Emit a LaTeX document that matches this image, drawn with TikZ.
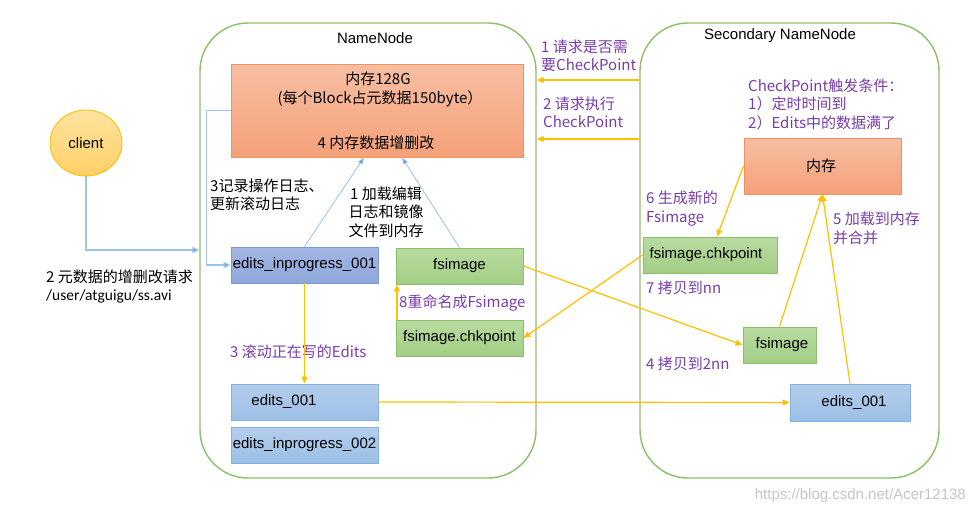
\documentclass[tikz,border=0pt]{standalone}
\usepackage{fontspec}
\setmainfont{Liberation Sans}
\newfontfamily\cjk{Noto Sans CJK SC}
\newfontfamily\cali{Carlito}
\usetikzlibrary{arrows.meta,shapes.geometric}
\definecolor{cgreen}{HTML}{8CC06A}
\definecolor{bgreen}{HTML}{8CC068}
\definecolor{gtop}{HTML}{B8DBA0}
\definecolor{gbot}{HTML}{A3CE85}
\definecolor{otop}{HTML}{F7BEA2}
\definecolor{obot}{HTML}{F4A179}
\definecolor{oline}{HTML}{F0915E}
\definecolor{ptop}{HTML}{A3B7E3}
\definecolor{pbot}{HTML}{8EA6DA}
\definecolor{pline}{HTML}{7F98D0}
\definecolor{btop}{HTML}{B4CEEC}
\definecolor{bbot}{HTML}{9BBFE6}
\definecolor{bline}{HTML}{86B1DE}
\definecolor{ylw}{HTML}{FFC000}
\definecolor{pur}{HTML}{7A3DAA}
\definecolor{lblue}{HTML}{9DC3E6}
\definecolor{dblue}{HTML}{5B9BD5}
\definecolor{ctop}{HTML}{FFE3A0}
\definecolor{cbot}{HTML}{FFD066}
\begin{document}
\begin{tikzpicture}[x=1pt,y=-1pt,
  font=\fontsize{15}{18.5}\selectfont,
  container/.style={draw=cgreen, line width=1.4pt, rounded corners=48pt, inner sep=0pt},
  bx/.style={line width=0.9pt, inner sep=0pt},
  obox/.style={bx, draw=oline, top color=otop, bottom color=obot},
  gbox/.style={bx, draw=bgreen, top color=gtop, bottom color=gbot},
  pbox/.style={bx, draw=pline, top color=ptop, bottom color=pbot},
  bbox/.style={bx, draw=bline, top color=btop, bottom color=bbot},
  yarr/.style={draw=ylw, line width=1.2pt, -{Triangle[length=7pt,width=6pt]}},
  barr/.style={draw=lblue, line width=1.2pt, -{Triangle[length=7pt,width=6pt,fill=dblue]}},
  tarr/.style={draw=lblue, line width=0.8pt, -{Triangle[length=7pt,width=5pt,fill=dblue]}},
  ptxt/.style={text=pur, font=\cjk\fontsize{15}{18.5}\selectfont, align=left, anchor=west, inner sep=0pt},
  ktxt/.style={text=black, font=\cjk\fontsize{15}{18.5}\selectfont, align=left, anchor=west, inner sep=0pt},
]
\useasboundingbox[fill=white] (0,0) rectangle (974,514);

% containers
\node[container, minimum width=336pt, minimum height=455pt] (nn) at (368,250.5) {};
\node[container, minimum width=299pt, minimum height=455pt] (snn) at (789.5,250.5) {};
\node[inner sep=0pt] (nnt) at (375,38) {NameNode};
\node[inner sep=0pt] (snnt) at (780,36) {Secondary NameNode};

% client
\node[draw=ylw, line width=0.9pt, ellipse, top color=ctop, bottom color=cbot, minimum width=72pt, minimum height=66pt, inner sep=0pt] (client) at (86,143) {client};

% NameNode boxes
\node[obox, minimum width=292pt, minimum height=93pt] (mem) at (377,110.5) {};
\node[inner sep=0pt, font=\cjk\fontsize{15}{18.5}\selectfont] (m1) at (378,79) {内存128G};
\node[inner sep=0pt, font=\cjk\fontsize{15}{18.5}\selectfont] (m2) at (380,99) {(每个Block占元数据150byte）};
\node[inner sep=0pt, font=\cjk\fontsize{15}{18.5}\selectfont] (m3) at (376,143) {4 内存数据增删改};

\node[pbox, minimum width=147pt, minimum height=36pt] (eip1) at (304.5,265) {edits\_inprogress\_001};
\node[gbox, minimum width=127pt, minimum height=36pt] (fs) at (459.5,266) {fsimage};
\node[gbox, minimum width=127pt, minimum height=36pt] (fck) at (459.5,338) {fsimage.chkpoint};
\node[bbox, minimum width=147pt, minimum height=36pt] (e001) at (304.5,402) {};
\node[inner sep=0pt] (e001t) at (284,402) {edits\_001};
\node[bbox, minimum width=147pt, minimum height=36pt] (eip2) at (304.5,445) {edits\_inprogress\_002};

% Secondary boxes
\node[obox, minimum width=157pt, minimum height=56pt] (smem) at (822.5,166) {};
\node[inner sep=0pt, font=\cjk\fontsize{15}{18.5}\selectfont] (smemt) at (821,166) {内存};
\node[gbox, minimum width=134pt, minimum height=36pt] (schk) at (710,255) {};
\node[inner sep=0pt] (schkt) at (706,255) {fsimage.chkpoint};
\node[gbox, minimum width=73pt, minimum height=36pt] (sfs) at (779.5,345) {};
\node[inner sep=0pt] (sfst) at (782,345) {fsimage};
\node[bbox, minimum width=120pt, minimum height=37pt] (se001) at (850,402.5) {};
\node[inner sep=0pt] (se001t) at (854,402.5) {edits\_001};

% texts
\node[ktxt] (t3) at (210,195) {3记录操作日志、\\更新滚动日志};
\node[ktxt, align=center, anchor=center] (t1) at (386,212) {1 加载编辑\\日志和镜像\\文件到内存};
\node[ktxt] (t2) at (46,286.5) {2 元数据的增删改请求\\{\cali\fontsize{15.5}{18.5}\selectfont /user/atguigu/ss.avi}};
\node[ptxt] (q1) at (541,56) {1 请求是否需\\要CheckPoint};
\node[ptxt] (q2) at (543,112.5) {2 请求执行\\CheckPoint};
\node[ptxt] (cond) at (748,104) {CheckPoint触发条件：\\1）定时时间到\\2）Edits中的数据满了};
\node[ptxt] (q6) at (646,208.5) {6 生成新的\\Fsimage};
\node[ptxt] (q5) at (833,228.5) {5 加载到内存\\并合并};
\node[ptxt] (q7) at (646,288) {7 拷贝到nn};
\node[ptxt] (q4) at (646,364) {4 拷贝到2nn};
\node[ptxt] (q8) at (399,303) {8重命名成Fsimage};
\node[ptxt] (q3) at (230,352) {3 滚动正在写的Edits};
\node[inner sep=0pt, text=black!22, anchor=east] (wm) at (966,496) {https://blog.csdn.net/Acer12138};

% blue connectors
\coordinate (cin) at (nn.west |- 0,250);
\draw[barr] (client.south) |- (cin);
\draw[barr] (mem.west) -- ++(-24,0) |- (eip1.west);
\draw[tarr] (eip1.north) -- ([xshift=-13pt]mem.south);
\draw[tarr] (fs.north) -- ([xshift=25pt]mem.south);

% yellow connectors
\draw[yarr] (snn.west |- 0,80) -- (nn.east |- 0,80);
\draw[yarr] (snn.west |- 0,139) -- (nn.east |- 0,139);
\draw[yarr] (eip1.south) -- (e001.north);
\draw[yarr] ([xshift=1.5pt]fck.north west) -- ([xshift=1.5pt]fs.south west);
\draw[yarr] (schk.west) -- (fck.east);
\draw[yarr] (fs.east) -- (sfs.west);
\draw[yarr] (e001.east) -- (se001.west);
\draw[yarr] (smem.west) -- ([xshift=7pt]schk.north);
\draw[yarr] (sfs.north) -- (smem.south);
\draw[yarr] (se001.north) -- (smem.south);
\end{tikzpicture}
\end{document}
